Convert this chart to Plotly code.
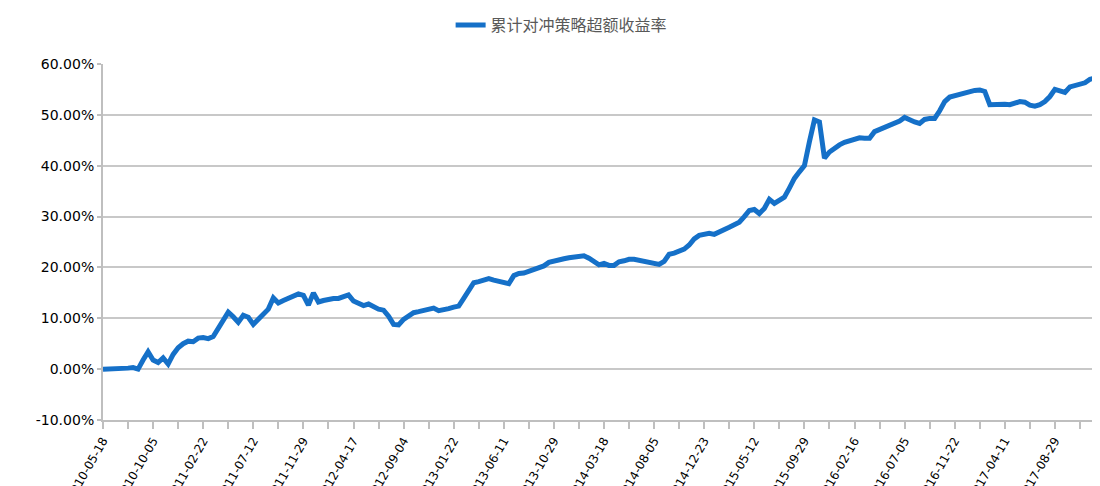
import pandas as pd
import plotly.graph_objs as go

# cumulative excess return (%), roughly one point per week
returns = [
    0.00, 0.00, 0.00, 0.00, 0.05, 0.20, 0.30, 0.00, 1.80, 3.40,
    1.80, 1.30, 2.20, 1.00, 2.90, 4.20, 5.00, 5.50, 5.40, 6.10,
    6.20, 6.00, 6.40, 8.00, 9.60, 11.20, 10.30, 9.20, 10.60, 10.20,
    8.80, 9.80, 10.60, 11.80, 14.00, 13.00, 13.50, 14.00, 14.40, 14.80,
    14.50, 12.60, 15.00, 13.20, 13.50, 13.80, 13.90, 13.90, 14.20, 14.60,
    13.40, 13.00, 12.50, 12.80, 12.30, 11.80, 11.60, 10.40, 8.80, 8.70,
    9.80, 10.60, 11.10, 11.30, 11.50, 11.80, 12.00, 11.50, 11.60, 11.90,
    12.20, 12.40, 13.90, 15.50, 17.00, 17.20, 17.60, 17.80, 17.50, 17.30,
    17.00, 16.80, 18.40, 18.80, 18.90, 19.20, 19.50, 19.90, 20.30, 21.00,
    21.30, 21.40, 21.70, 21.90, 22.00, 22.20, 22.30, 21.80, 21.00, 20.50,
    20.80, 20.40, 20.40, 21.10, 21.30, 21.60, 21.60, 21.40, 21.20, 21.00,
    20.90, 20.60, 21.20, 22.60, 22.80, 23.10, 23.60, 24.40, 25.60, 26.30,
    26.60, 26.70, 26.50, 26.90, 27.40, 27.90, 28.40, 28.90, 30.00, 31.20,
    31.40, 30.60, 31.60, 33.40, 32.60, 33.20, 33.80, 35.60, 37.50, 38.80,
    40.00, 44.70, 49.00, 48.60, 41.50, 42.70, 43.50, 44.10, 44.60, 44.90,
    45.30, 45.50, 45.40, 45.40, 46.70, 47.10, 47.50, 47.90, 48.30, 48.80,
    49.50, 49.00, 48.60, 48.30, 49.10, 49.30, 49.30, 50.80, 52.60, 53.50,
    53.80, 54.10, 54.30, 54.60, 54.80, 54.90, 54.60, 52.00, 52.10, 52.20,
    52.10, 52.00, 52.30, 52.60, 52.50, 51.90, 51.70, 52.00, 52.60, 53.60,
    55.00, 54.70, 54.40, 55.50, 55.80, 56.00, 56.30, 57.00, 57.20, 57.50,
]
dates = [d.strftime("%Y-%m-%d") for d in pd.bdate_range("2010-05-18", periods=len(returns), freq="10B")]
series_name = "累计对冲策略超额收益率"
y_ticks = [-10, 0, 10, 20, 30, 40, 50, 60]

tick_vals = dates[::5]
tick_text = [d if i % 2 == 0 else "" for i, d in enumerate(tick_vals)]

fig = go.Figure(data=go.Scatter(
    x=dates, y=returns, mode="lines", name=series_name,
    line=dict(color="#1570c8", width=5),
))

# page body adds an 8px offset: keep the figure inside the window
fig.update_layout(
    width=1092, height=478,
    margin=dict(l=95, r=0, t=54, b=66),
    plot_bgcolor="white", paper_bgcolor="white",
    showlegend=True,
    legend=dict(orientation="h", x=0.46, xanchor="center", y=1.109, yanchor="middle",
                font=dict(family="Noto Sans CJK SC", size=16, color="#595959")),
    font=dict(family="DejaVu Sans", size=14, color="#000000"),
)
fig.update_xaxes(
    type="category", range=[0, len(returns) - 1],
    tickmode="array", tickvals=tick_vals, ticktext=tick_text,
    tickangle=-60, tickfont=dict(size=12, color="#000000"),
    ticks="outside", ticklen=7, tickwidth=2, tickcolor="#bfbfbf",
    showline=True, linecolor="#bfbfbf", linewidth=2,
    showgrid=False, zeroline=False, automargin=False,
)
fig.update_yaxes(
    range=[-10, 60], tickmode="array", tickvals=y_ticks,
    ticktext=[f"{v:.2f}%" for v in y_ticks],
    ticks="outside", ticklen=4, tickwidth=2, tickcolor="#bfbfbf",
    showline=True, linecolor="#bfbfbf", linewidth=2,
    showgrid=True, gridcolor="#c8c8c8", gridwidth=2,
    zeroline=False, automargin=False,
)

fig.write_html("out.html")
